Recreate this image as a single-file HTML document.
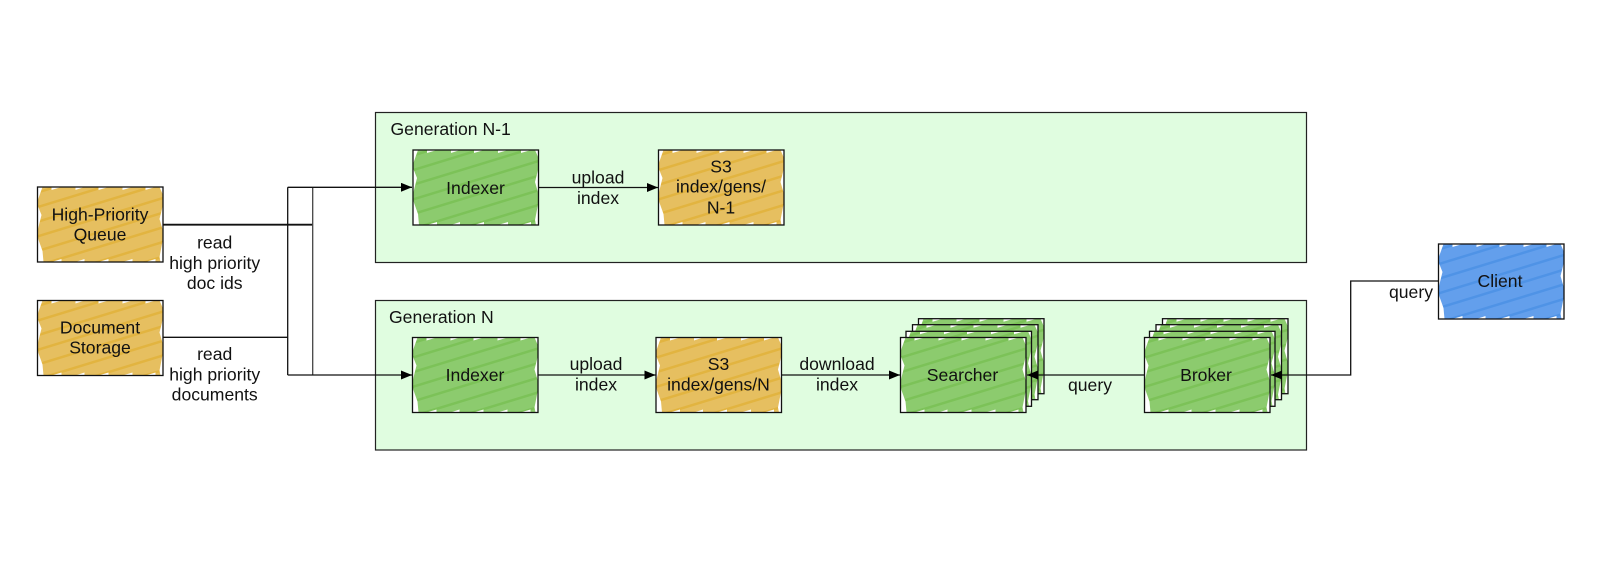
<!DOCTYPE html>
<html><head><meta charset="utf-8">
<style>
html,body{margin:0;padding:0;background:#fff}
svg{display:block}
text{font-family:"Liberation Sans",sans-serif;font-size:17.6px;fill:#111;text-anchor:middle}
text.l{text-anchor:start}
</style></head>
<body>
<svg width="1600" height="562" viewBox="0 0 1600 562" xmlns="http://www.w3.org/2000/svg">
<defs>
<pattern id="o" patternUnits="userSpaceOnUse" width="60" height="14" patternTransform="rotate(-17)">
<rect width="60" height="14" fill="#e6bf60"/><rect y="4" width="60" height="2.5" fill="#e2b440"/>
</pattern>
<pattern id="g" patternUnits="userSpaceOnUse" width="60" height="14" patternTransform="rotate(-17)">
<rect width="60" height="14" fill="#8ccb6e"/><rect y="4" width="60" height="2.5" fill="#7cc258"/>
</pattern>
<pattern id="b" patternUnits="userSpaceOnUse" width="60" height="14" patternTransform="rotate(-17)">
<rect width="60" height="14" fill="#639fec"/><rect y="4" width="60" height="2.5" fill="#4f93e6"/>
</pattern>
<g id="n">
<rect width="125.5" height="75"/>
<path fill="#fff" d="M0 0H5L0 14ZM0 18L4 28 0 44ZM0 50L5 64 6 75H0ZM125.5 0H122L125.5 8ZM125.5 18L122 32 125.5 44ZM125.5 52L122 70 123 75H125.5Z
M14 0H24L14 3ZM38 0H47L38 3ZM61 0H71L61 3ZM85 0H95L85 3ZM108 0H118L108 3Z
M14 75H24V72ZM38 75H47V72ZM61 75H71V72ZM85 75H95V72ZM108 75H118V72Z"/>
<rect width="125.5" height="75" fill="none" stroke="#111" stroke-width="1.3"/>
</g>
<marker id="a" markerUnits="userSpaceOnUse" markerWidth="11" markerHeight="9" refX="11" refY="4.5" orient="auto"><path d="M0 0L11 4.5 0 9Z" fill="#000"/></marker>
</defs>

<rect x="375.5" y="112.5" width="931" height="150" fill="#e0fde0" stroke="#222" stroke-width="1.2"/>
<rect x="375.5" y="300.5" width="931" height="149.5" fill="#e0fde0" stroke="#222" stroke-width="1.2"/>

<g fill="none" stroke="#111" stroke-width="1.3">
<path d="M163 224.7H312.7" stroke-width="1.8"/>
<path d="M163 337.3H287.7"/>
<path d="M287.7 187.3V375"/>
<path d="M312.7 187.3V375" stroke="#444"/>
<path d="M287.7 187.3H412" marker-end="url(#a)"/>
<path d="M287.7 375H412" marker-end="url(#a)"/>
<path d="M538 187.5H658" marker-end="url(#a)"/>
<path d="M538 375H655.5" marker-end="url(#a)"/>
<path d="M781.7 375H900" marker-end="url(#a)"/>
</g>

<use href="#n" x="37.5" y="187" fill="url(#o)"/>
<use href="#n" x="37.5" y="300.5" fill="url(#o)"/>
<use href="#n" x="413" y="150" fill="url(#g)"/>
<use href="#n" x="658.5" y="150" fill="url(#o)"/>
<use href="#n" x="412.5" y="337.5" fill="url(#g)"/>
<use href="#n" x="656" y="337.5" fill="url(#o)"/>

<use href="#n" x="918.5" y="318.7" fill="url(#g)"/>
<use href="#n" x="912.5" y="324.7" fill="url(#g)"/>
<use href="#n" x="906" y="331.3" fill="url(#g)"/>
<use href="#n" x="900.5" y="337.5" fill="url(#g)"/>

<use href="#n" x="1162.5" y="318.7" fill="url(#g)"/>
<use href="#n" x="1156" y="324.7" fill="url(#g)"/>
<use href="#n" x="1149.5" y="331.3" fill="url(#g)"/>
<use href="#n" x="1144.5" y="337.5" fill="url(#g)"/>

<use href="#n" x="1438.5" y="244" fill="url(#b)"/>

<g fill="none" stroke="#111" stroke-width="1.3">
<path d="M1144 375H1027" marker-end="url(#a)"/>
<path d="M1438 281H1350.7V375H1271" marker-end="url(#a)"/>
</g>

<text x="100" y="220.7">High-Priority</text>
<text x="100" y="240.7">Queue</text>
<text x="100" y="333.3">Document</text>
<text x="100" y="353.3">Storage</text>
<text x="214.7" y="248.7">read</text>
<text x="214.7" y="269">high priority</text>
<text x="214.7" y="289">doc ids</text>
<text x="214.7" y="360">read</text>
<text x="214.7" y="380.5">high priority</text>
<text x="214.7" y="400.7">documents</text>

<text class="l" x="390.5" y="135">Generation N-1</text>
<text class="l" x="389" y="323">Generation N</text>

<text x="475.5" y="194">Indexer</text>
<text x="598" y="183.5">upload</text>
<text x="598" y="204">index</text>
<text x="721" y="172.7">S3</text>
<text x="721" y="192.7">index/gens/</text>
<text x="721" y="213.3">N-1</text>

<text x="475" y="381">Indexer</text>
<text x="596" y="370">upload</text>
<text x="596" y="390.7">index</text>
<text x="718.5" y="370">S3</text>
<text x="718.5" y="390.7">index/gens/N</text>
<text x="837" y="370">download</text>
<text x="837" y="390.7">index</text>
<text x="962.5" y="381">Searcher</text>
<text x="1090" y="391">query</text>
<text x="1206" y="381">Broker</text>
<text x="1411" y="298">query</text>
<text x="1500" y="287">Client</text>
</svg>
</body></html>
